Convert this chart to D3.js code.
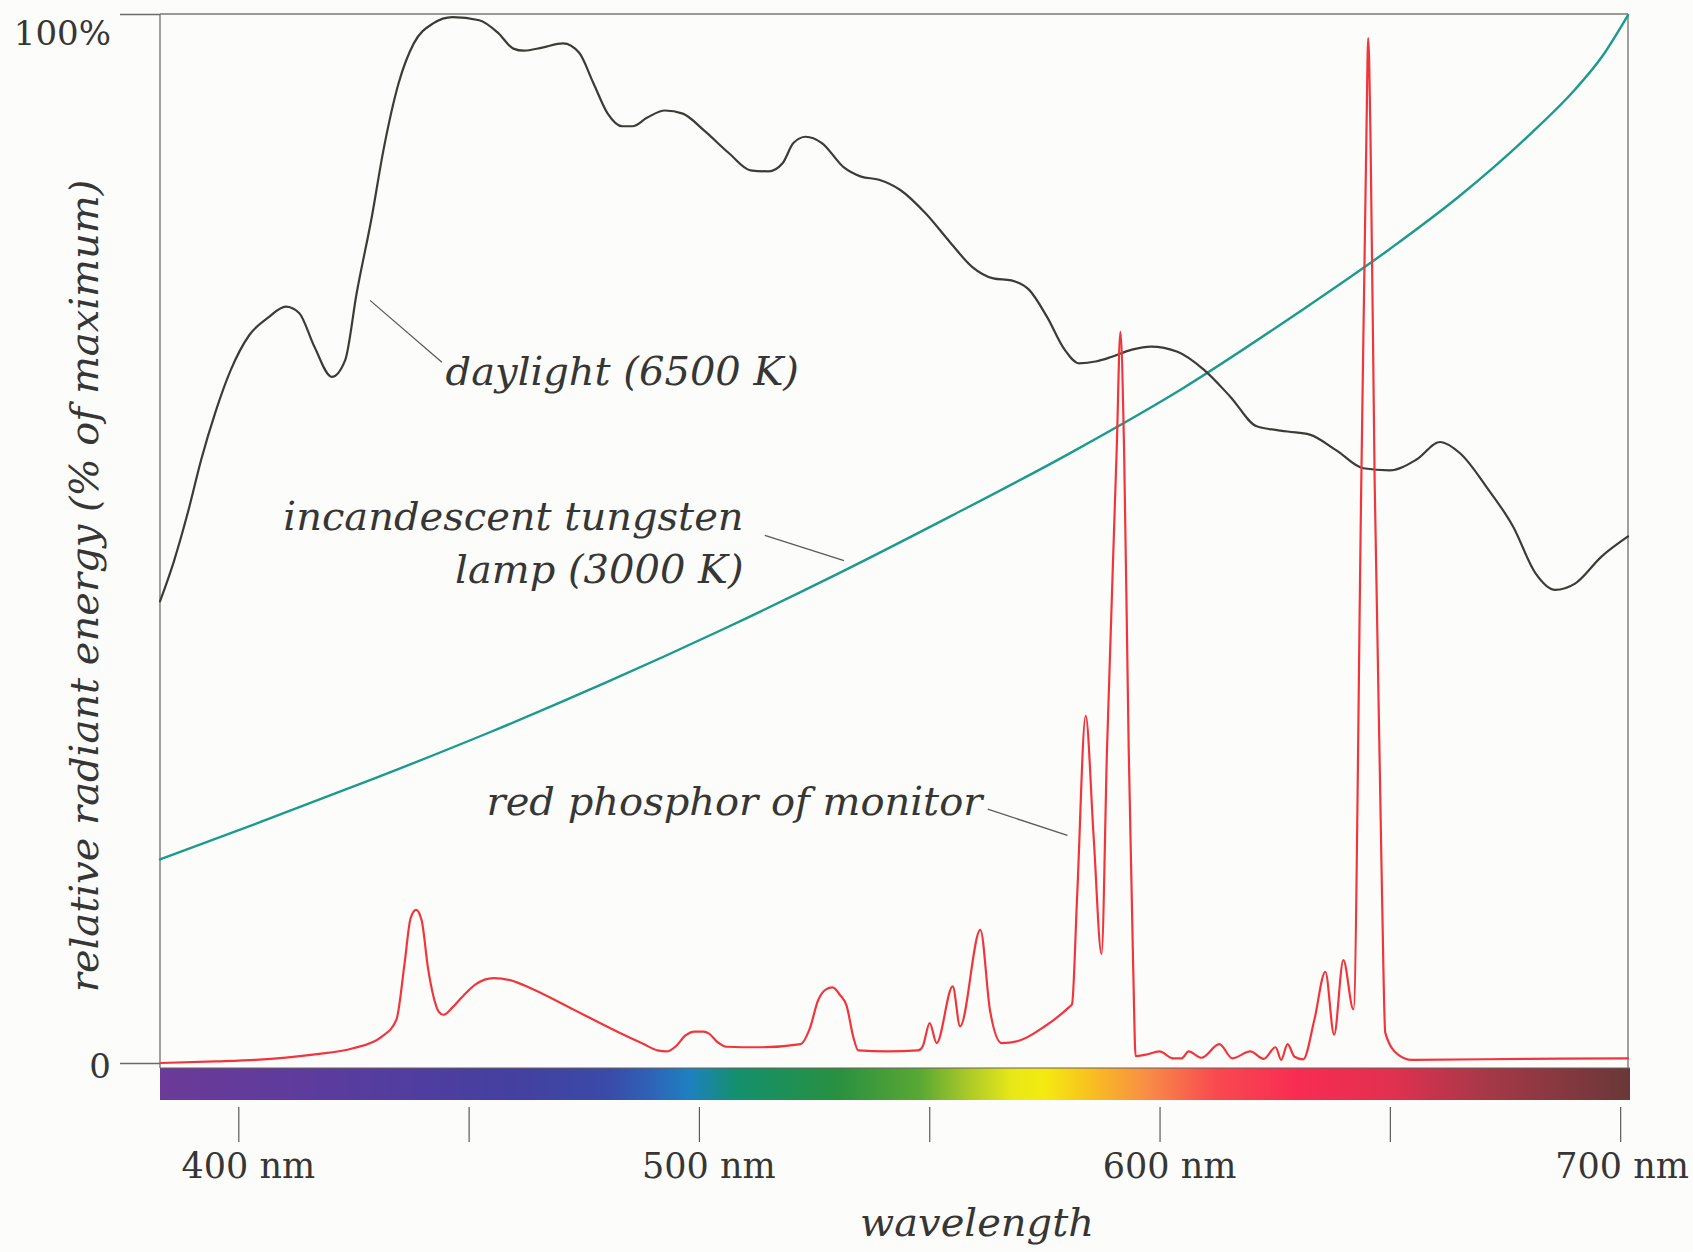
<!DOCTYPE html>
<html>
<head>
<meta charset="utf-8">
<script src="https://cdn.jsdelivr.net/npm/d3@7"></script>
<style>
  html, body { margin: 0; padding: 0; background: #fcfcfb; }
  svg { display: block; }
  text { font-family: "DejaVu Serif", "Liberation Serif", serif; fill: #363634; }
</style>
</head>
<body>
<svg id="chart" width="1693" height="1252"></svg>
<script>
// ---- data: wavelength in nm, energy in % of maximum ----
const daylightNm  = [383.0, 386.0, 389.0, 392.0, 395.0, 398.3, 402.4, 406.6, 410.3, 413.2, 416.5, 420.3, 423.2, 425.7, 429.0, 431.5, 434.8, 438.1, 442.3, 446.5, 452.3, 456.4, 459.7, 462.0, 466.0, 470.5, 474.0, 477.1, 480.2, 483.3, 485.6, 488.7, 492.6, 496.5, 501.1, 506.6, 511.2, 515.1, 518.2, 520.5, 523.2, 526.7, 531.4, 535.2, 539.1, 543.8, 549.2, 554.6, 559.3, 563.9, 567.8, 571.7, 575.6, 579.4, 582.5, 586.4, 589.5, 594.0, 598.1, 603.9, 609.6, 615.4, 621.1, 627.8, 632.6, 638.4, 644.2, 649.9, 655.7, 660.9, 665.3, 671.0, 676.8, 681.6, 685.9, 690.2, 696.0, 701.7];
const daylightPct = [44.0, 47.8, 52.4, 57.6, 62.0, 66.0, 69.4, 71.1, 72.1, 71.5, 68.3, 65.4, 67.0, 73.4, 80.7, 87.0, 93.4, 97.2, 99.1, 99.7, 99.4, 98.2, 96.7, 96.5, 96.8, 97.2, 96.3, 93.4, 90.5, 89.3, 89.3, 90.1, 90.8, 90.5, 88.9, 86.7, 85.1, 85.0, 85.8, 87.7, 88.3, 87.7, 85.4, 84.5, 84.2, 83.2, 81.0, 78.2, 75.9, 74.8, 74.6, 73.7, 71.1, 68.0, 66.7, 66.9, 67.3, 68.0, 68.3, 67.8, 66.1, 63.5, 60.7, 60.2, 59.9, 58.4, 56.7, 56.5, 57.5, 59.2, 58.1, 54.9, 51.1, 46.7, 45.1, 45.7, 48.3, 50.2];

const tungstenNm  = [383.0, 405.0, 430.0, 455.0, 480.0, 505.0, 530.0, 555.0, 580.0, 605.0, 630.0, 650.0, 665.0, 680.6, 690.2, 696.0, 701.7];
const tungstenPct = [19.4, 23.0, 27.2, 31.6, 36.3, 41.3, 46.6, 52.2, 58.0, 64.3, 71.5, 77.6, 82.6, 88.6, 92.8, 95.9, 99.9];

const phosphorNm  = [383.2, 395.0, 403.7, 416.2, 424.9, 431.1, 434.3, 436.1, 437.4, 438.6, 439.8, 441.2, 442.4, 443.5, 444.5, 446.5, 448.6, 451.5, 455.4, 459.0, 463.6, 472.3, 482.2, 488.0, 491.0, 493.0, 495.0, 497.0, 499.1, 501.0, 502.2, 504.0, 505.9, 513.4, 522.1, 524.0, 525.9, 527.5, 529.0, 530.6, 532.1, 533.5, 534.6, 540.8, 547.6, 548.6, 550.1, 551.6, 555.1, 556.7, 561.1, 563.2, 565.7, 569.3, 575.1, 580.3, 581.0, 582.1, 583.96, 585.7, 587.4, 588.6, 590.7, 591.5, 592.3, 593.3, 594.3, 594.8, 597.0, 600.0, 602.9, 604.8, 606.3, 609.1, 613.0, 615.8, 619.7, 622.6, 625.2, 626.4, 627.8, 629.3, 631.2, 633.6, 636.0, 637.9, 639.9, 642.1, 643.8, 644.9, 645.3, 645.8, 646.7, 648.3, 649.0, 651.8, 654.7, 680.0, 701.7];
const phosphorPct = [0.0, 0.15, 0.3, 0.8, 1.4, 2.5, 4.1, 9.5, 13.8, 14.6, 13.6, 9.0, 6.3, 4.9, 4.6, 5.3, 6.3, 7.5, 8.1, 7.9, 7.1, 5.2, 3.0, 1.8, 1.2, 1.1, 1.6, 2.6, 3.0, 3.0, 2.8, 2.0, 1.55, 1.5, 1.8, 3.2, 6.0, 7.0, 7.2, 6.5, 5.4, 2.5, 1.2, 1.1, 1.2, 1.6, 3.8, 1.9, 7.3, 3.5, 12.7, 5.0, 1.9, 2.1, 3.5, 5.3, 5.6, 15.8, 33.1, 21.5, 10.4, 30.0, 58.5, 69.7, 58.5, 30.0, 8.7, 0.65, 0.8, 1.1, 0.45, 0.45, 1.1, 0.5, 1.8, 0.45, 1.1, 0.4, 1.5, 0.3, 1.8, 0.6, 0.35, 4.1, 8.7, 2.7, 9.8, 5.1, 55.4, 88.2, 97.7, 88.2, 55.4, 16.0, 2.9, 0.8, 0.3, 0.4, 0.45];

// axis ticks
const wavelengthTicks = [400, 450, 500, 550, 600, 650, 700];
const wavelengthLabelNm = [400, 500, 600, 700];
const wavelengthLabelText = ["400 nm", "500 nm", "600 nm", "700 nm"];
const energyTicks = [0, 100];
const energyTickText = ["0", "100%"];

// visible-spectrum colour band
const spectrumNm = [383, 420, 460, 480, 490, 498, 508, 530, 548, 558, 568, 575, 585, 598, 612, 630, 650, 670, 701.7];
const spectrumColor = ["#6c3a98", "#5a3c9e", "#4440a0", "#3a4aa8", "#2e64b8", "#1e80c0", "#14906e", "#289040", "#5aa834", "#a8c828", "#e8e818", "#f4ea10", "#f8c020", "#f88a48", "#f84a50", "#f82c52", "#e23050", "#a83848", "#6a3838"];

// curve labels, anchored in data units [nm, %]
const curveLabels = [
  { text: ["daylight (6500 K)"], at: [445.0, 64.6], anchor: "start", leader: [[428.6, 72.7], [444.2, 66.8]] },
  { text: ["incandescent tungsten", "lamp (3000 K)"], at: [509.7, 50.8], anchor: "end", leader: [[514.3, 50.3], [531.5, 47.9]] },
  { text: ["red phosphor of monitor"], at: [453.9, 23.6], anchor: "start", leader: [[562.7, 24.2], [580.0, 21.7]] }
];

// ---- layout ----
const W = 1693, H = 1252;
const plot = { left: 160, right: 1628, top: 14, zero: 1063 };
const barTop = 1068, barBottom = 1100;

const x = d3.scaleLinear().domain([383, 701.7]).range([plot.left, plot.right]);
const y = d3.scaleLinear().domain([0, 100]).range([plot.zero, plot.top]);

const svg = d3.select("#chart");

// spectrum gradient
const defs = svg.append("defs");
const grad = defs.append("linearGradient")
  .attr("id", "spectrum").attr("gradientUnits", "userSpaceOnUse")
  .attr("x1", plot.left).attr("x2", plot.right + 2).attr("y1", 0).attr("y2", 0);
spectrumNm.forEach((nm, i) => {
  grad.append("stop")
    .attr("offset", (x(nm) - plot.left) / (plot.right + 2 - plot.left))
    .attr("stop-color", spectrumColor[i]);
});

svg.append("rect")
  .attr("x", x.range()[0]).attr("y", barTop)
  .attr("width", x.range()[1] + 2 - x.range()[0]).attr("height", barBottom - barTop)
  .attr("fill", "url(#spectrum)");
svg.append("line")
  .attr("x1", plot.left).attr("x2", plot.right + 2)
  .attr("y1", barTop).attr("y2", barTop)
  .attr("stroke", "#6a6058").attr("stroke-width", 1.2);

// frame
const frame = svg.append("g").attr("fill", "none").attr("stroke", "#7a7a76").attr("stroke-width", 1.4);
frame.append("line").attr("x1", plot.left).attr("x2", plot.left).attr("y1", y(100)).attr("y2", barTop);
frame.append("line").attr("x1", plot.right).attr("x2", plot.right).attr("y1", y(100)).attr("y2", barTop);
frame.append("line").attr("x1", plot.left).attr("x2", plot.right).attr("y1", y(100)).attr("y2", y(100));

// energy axis (left)
const yAxis = d3.axisLeft(y).tickValues(energyTicks).tickSize(40).tickFormat("");
const yg = svg.append("g").attr("transform", `translate(${plot.left},0)`).call(yAxis);
yg.select(".domain").remove();
yg.selectAll(".tick line").attr("stroke", "#6a6a66").attr("stroke-width", 1.3);
svg.append("g").selectAll("text")
  .data(energyTicks)
  .join("text")
  .attr("x", plot.left - 49)
  .attr("y", d => Math.max(y(d) + 15, 45))
  .attr("text-anchor", "end")
  .attr("font-size", 34)
  .text((d, i) => energyTickText[i]);

// wavelength axis (below the colour band)
const xAxis = d3.axisBottom(x).tickValues(wavelengthTicks).tickSize(35).tickFormat("");
const xg = svg.append("g").attr("transform", `translate(0,${barBottom + 7})`).call(xAxis);
xg.select(".domain").remove();
xg.selectAll(".tick line").attr("stroke", "#5a5a56").attr("stroke-width", 1.2);

const xLabels = svg.append("g").selectAll("text")
  .data(wavelengthLabelNm)
  .join("text")
  .attr("y", 1178)
  .attr("text-anchor", "middle")
  .attr("font-size", 35)
  .text((d, i) => wavelengthLabelText[i]);
xLabels.attr("x", function(d) {
  const w = this.getComputedTextLength();
  return Math.min(x(d) + 10, W - 4 - w / 2);
});

// axis titles
svg.append("text")
  .attr("x", (plot.left + plot.right) / 2 + 83)
  .attr("y", 1236)
  .attr("text-anchor", "middle")
  .attr("font-style", "italic")
  .attr("font-size", 40)
  .text("wavelength");

svg.append("text")
  .attr("transform", `translate(98,${586}) rotate(-90)`)
  .attr("text-anchor", "middle")
  .attr("font-style", "italic")
  .attr("font-size", 40)
  .text("relative radiant energy (% of maximum)");

// spectral curves
const line = d3.line().x(d => x(d[0])).y(d => y(d[1])).curve(d3.curveMonotoneX);
const zip = (a, b) => a.map((v, i) => [v, b[i]]);

const curves = svg.append("g").attr("fill", "none").attr("stroke-linejoin", "round").attr("stroke-linecap", "round");
curves.append("path")
  .attr("d", line(zip(tungstenNm, tungstenPct)))
  .attr("stroke", "#1c9a8c").attr("stroke-width", 2.4);
curves.append("path")
  .attr("d", line(zip(daylightNm, daylightPct)))
  .attr("stroke", "#3c3c36").attr("stroke-width", 2.2);
curves.append("path")
  .attr("d", line(zip(phosphorNm, phosphorPct)))
  .attr("stroke", "#f0363c").attr("stroke-width", 2.2);

// curve labels and leader lines
const ann = svg.append("g");
curveLabels.forEach(c => {
  ann.append("line")
    .attr("x1", x(c.leader[0][0])).attr("y1", y(c.leader[0][1]))
    .attr("x2", x(c.leader[1][0])).attr("y2", y(c.leader[1][1]))
    .attr("stroke", "#5a5a56").attr("stroke-width", 1.3);
  const t = ann.append("text")
    .attr("x", x(c.at[0])).attr("y", y(c.at[1]))
    .attr("text-anchor", c.anchor)
    .attr("font-style", "italic")
    .attr("font-size", 40);
  c.text.forEach((s, i) => {
    t.append("tspan").attr("x", x(c.at[0])).attr("dy", i === 0 ? 0 : 53).text(s);
  });
});
</script>
</body>
</html>
